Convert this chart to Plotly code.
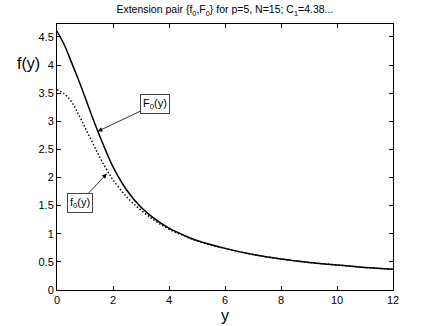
import plotly.graph_objects as go

y_vals = [0, 0.25, 0.5, 0.75, 1, 1.25, 1.5, 1.75, 2, 2.5, 3, 3.5, 4, 4.5, 5, 6, 7, 8, 9, 10, 11, 12]
F0 = [4.60, 4.37, 4.07, 3.76, 3.43, 3.09, 2.77, 2.47, 2.19, 1.77, 1.47, 1.26, 1.10, 0.98, 0.88, 0.74, 0.63, 0.55, 0.49, 0.445, 0.40, 0.37]
f0 = [3.56, 3.49, 3.36, 3.14, 2.89, 2.64, 2.39, 2.16, 1.96, 1.65, 1.42, 1.23, 1.08, 0.97, 0.87, 0.74, 0.63, 0.55, 0.49, 0.445, 0.40, 0.37]

x_ticks = [0, 2, 4, 6, 8, 10, 12]
y_ticks = [0, 0.5, 1, 1.5, 2, 2.5, 3, 3.5, 4, 4.5]

font = "Liberation Sans, Arial, sans-serif"

fig = go.Figure()

fig.add_trace(go.Scatter(
    x=y_vals, y=f0, mode='lines', name='f0',
    line=dict(color='black', width=1.4, dash='1.5px,2px'),
    line_shape='spline'
))
fig.add_trace(go.Scatter(
    x=y_vals, y=F0, mode='lines', name='F0',
    line=dict(color='black', width=1.5),
    line_shape='spline'
))

axis_common = dict(
    showgrid=False, zeroline=False, showline=True, linecolor='black', linewidth=1,
    mirror='ticks', ticks='inside', ticklen=4, tickcolor='black',
    tickfont=dict(family=font, size=11, color='black')
)

fig.update_layout(
    width=435, height=326,
    margin=dict(l=57, r=42, t=24, b=36),
    paper_bgcolor='white', plot_bgcolor='white',
    showlegend=False,
    title=dict(
        text='Extension pair {f<sub>0</sub>,F<sub>0</sub>} for p=5, N=15; C<sub>1</sub>=4.38...',
        x=0.517, xanchor='center', y=0.97, yanchor='middle',
        font=dict(family=font, size=10.5, color='black')
    ),
    xaxis=dict(range=[0, 12], tickvals=x_ticks, **axis_common),
    yaxis=dict(range=[0, 4.73], tickvals=y_ticks, **axis_common),
)

# Axis labels (y label is horizontal, MATLAB style)
fig.add_annotation(text='f(y)', xref='paper', yref='paper', x=-0.085, y=0.853,
                   xanchor='center', yanchor='middle', showarrow=False,
                   font=dict(family=font, size=16, color='black'))
fig.add_annotation(text='y', xref='paper', yref='paper', x=0.5, y=-0.094,
                   xanchor='center', yanchor='middle', showarrow=False,
                   font=dict(family=font, size=16, color='black'))

# Curve labels with arrows
box = dict(bordercolor='#444', borderwidth=1, borderpad=2, bgcolor='white',
           font=dict(family=font, size=11, color='black'),
           showarrow=True, arrowhead=2, arrowsize=1.2, arrowwidth=0.8, arrowcolor='black')
fig.add_annotation(text='F<sub>0</sub>(y)', x=1.45, y=2.82, ax=57, ay=-27, **box)
fig.add_annotation(text='f<sub>0</sub>(y)', x=1.78, y=2.07, ax=-27, ay=29, **box)

# drop the default body margin so the figure fills the window
fig.write_html("out.html", config={'displayModeBar': False},
               post_script="document.body.style.margin='0';")
